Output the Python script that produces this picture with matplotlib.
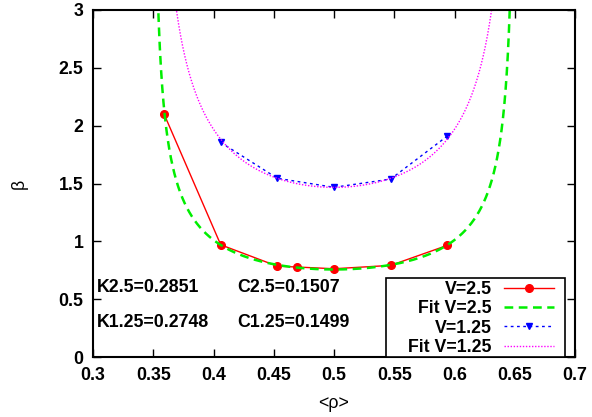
import numpy as np
import matplotlib
matplotlib.use("Agg")
import matplotlib.pyplot as plt
from matplotlib.patches import Rectangle

# measured points
rho_v25 = [0.359, 0.406, 0.453, 0.469, 0.500, 0.547, 0.594]
beta_v25 = [2.10, 0.970, 0.785, 0.778, 0.763, 0.792, 0.965]

rho_v125 = [0.406, 0.453, 0.500, 0.547, 0.594]
beta_v125 = [1.855, 1.545, 1.467, 1.538, 1.910]

# fit parameters printed on the chart
V_values = [2.5, 1.25]
K_values = [0.2851, 0.2748]
C_values = [0.1507, 0.1499]

x_ticks = [0.3, 0.35, 0.4, 0.45, 0.5, 0.55, 0.6, 0.65, 0.7]
y_ticks = [0, 0.5, 1, 1.5, 2, 2.5, 3]


def fit_curve(K, C, V, n=2000):
    # beta = K / (V * sqrt(C^2 - (rho - 1/2)^2))
    r = np.linspace(0.5 - C + 1e-6, 0.5 + C - 1e-6, n)
    return r, K / (V * np.sqrt(C**2 - (r - 0.5)**2))


plt.rcParams['font.family'] = ['Liberation Sans', 'DejaVu Sans']
plt.rcParams['font.weight'] = 'bold'
FS = 12.8

fig = plt.figure(figsize=(5.92, 4.17), dpi=100)
ax = fig.add_axes([93/592, 1 - 357/417, 482/592, 347/417])

ax.plot(rho_v25, beta_v25, color='#ff0000', lw=1.0, marker='o', ms=5.5,
        label='V=2.5')
r, b = fit_curve(K_values[0], C_values[0], V_values[0])
ax.plot(r, b, color='#00ee00', lw=1.8, dashes=(3.5, 2.2), label='Fit V=2.5')
ax.plot(rho_v125, beta_v125, color='#0000ff', lw=1.0, dashes=(2, 2.5),
        marker='v', ms=5, label='V=1.25')
r, b = fit_curve(K_values[1], C_values[1], V_values[1])
ax.plot(r, b, color='#ff00ff', lw=1.0, dashes=(1, 1.2), label='Fit V=1.25')

ax.set_xlim(0.3, 0.7)
ax.set_ylim(0, 3)
ax.set_xticks(x_ticks)
ax.set_yticks(y_ticks)
ax.set_xticklabels([f'{t:g}' for t in x_ticks])
ax.set_yticklabels([f'{t:g}' for t in y_ticks])
ax.tick_params(direction='in', length=6, width=1, top=True, right=True,
               labelsize=FS, pad=7)
for s in ax.spines.values():
    s.set_linewidth(1.5)

ax.set_xlabel('<ρ>', fontsize=FS, fontweight='normal', labelpad=8)
ax.set_ylabel('β', fontsize=FS, fontweight='normal', labelpad=22)

ax.text(0.3033, 0.605, f'K2.5={K_values[0]}', fontsize=FS, va='center')
ax.text(0.420, 0.605, f'C2.5={C_values[0]}', fontsize=FS, va='center')
ax.text(0.3033, 0.294, f'K1.25={K_values[1]}', fontsize=FS, va='center')
ax.text(0.420, 0.294, f'C1.25={C_values[1]}', fontsize=FS, va='center')

# legend box drawn separately so it can sit flush on the bottom axis
ax.add_patch(Rectangle(((386 - 93) / 482, 0), 179 / 482, 79 / 347,
                       transform=ax.transAxes, fill=True, facecolor='white',
                       edgecolor='black', lw=1.2, zorder=4))
leg = ax.legend(loc='upper right', bbox_to_anchor=((554 - 93) / 482, 76 / 347),
                frameon=False, markerfirst=False, numpoints=1,
                fontsize=FS, borderpad=0, borderaxespad=0, labelspacing=0.13,
                handlelength=2.8, handletextpad=0.7)
leg.set_zorder(5)

fig.savefig('out.png', dpi=100)
